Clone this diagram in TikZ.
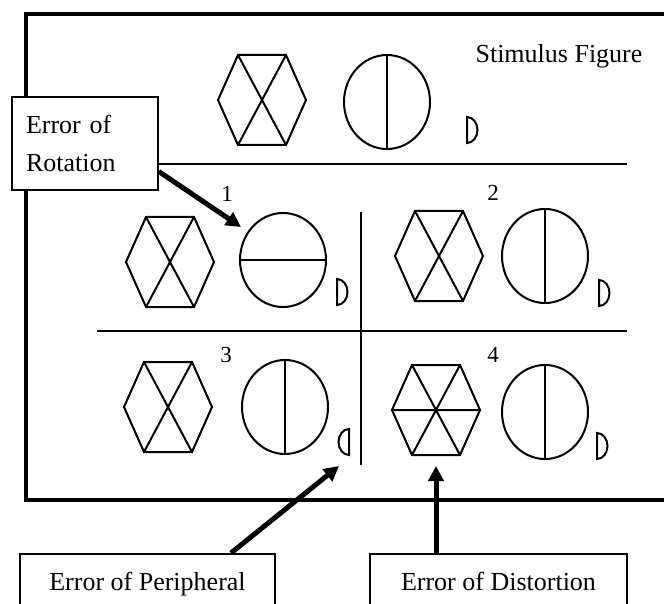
\documentclass[tikz,border=0pt]{standalone}
\usepackage{fontspec}
\setmainfont{Liberation Serif}
\usetikzlibrary{arrows.meta}

\begin{document}
\begin{tikzpicture}[x=1pt,y=-1pt,
  figline/.style={line width=2pt},
  divider/.style={line width=1.8pt},
  box/.style={draw,fill=white,line width=1.6pt,font=\fontsize{26}{38}\selectfont},
  panelnum/.style={anchor=base,font=\fontsize{23}{24}\selectfont},
  errarrow/.style={line width=5pt,-{Triangle[length=15pt,width=15pt]}},
  hexcross/.pic={
    \draw[figline] (-44,0)--(-24,-45)--(24,-45)--(44,0)--(24,45)--(-24,45)--cycle;
    \draw[figline] (-24,-45)--(24,45) (24,-45)--(-24,45);},
  hexstar/.pic={
    \draw[figline] (-44,0)--(-24,-45)--(24,-45)--(44,0)--(24,45)--(-24,45)--cycle;
    \draw[figline] (-24,-45)--(24,45) (24,-45)--(-24,45) (-44,0)--(44,0);},
  ovalv/.pic={
    \draw[figline] (0,0) ellipse [x radius=43,y radius=47];
    \draw[figline] (0,-47)--(0,47);},
  ovalh/.pic={
    \draw[figline] (0,0) ellipse [x radius=43,y radius=47];
    \draw[figline] (-43,0)--(43,0);},
  dmark/.pic={
    \draw[figline] (0,-13)--(0,13) arc[start angle=90,end angle=-90,x radius=10.5,y radius=13]--cycle;}]
  \clip (0,0) rectangle (664,604);
  \draw[line width=3.4pt] (26,14) rectangle (700,500);
  % dividers of the four answers
  \draw[divider] (150,164)--(627,164);
  \draw[divider] (97,331)--(627,331);
  \draw[divider] (361,212)--(361,465);
  % stimulus
  \pic at (262,100) {hexcross};
  \pic at (387,102) {ovalv};
  \pic at (467,130) {dmark};
  \node[anchor=base,font=\fontsize{26}{30}\selectfont] (stim) at (559,63) {Stimulus Figure};
  % answer 1
  \node[panelnum] (n1) at (227,202) {1};
  \pic at (170,262) {hexcross};
  \pic at (283,260) {ovalh};
  \pic at (337,292) {dmark};
  % answer 2
  \node[panelnum] (n2) at (493,201) {2};
  \pic at (439,256) {hexcross};
  \pic at (545,256) {ovalv};
  \pic at (599,293) {dmark};
  % answer 3
  \node[panelnum] (n3) at (226,362) {3};
  \pic at (168,407) {hexcross};
  \pic at (285,407) {ovalv};
  \pic[xscale=-1] at (349,442) {dmark};
  % answer 4
  \node[panelnum] (n4) at (493,362) {4};
  \pic at (436,410) {hexstar};
  \pic at (545,412) {ovalv};
  \pic at (597,446) {dmark};
  % error labels
  \node[box,minimum width=146pt,minimum height=93pt,inner xsep=14pt,text width=118pt,align=left] (rot) at (85,143.5) {Error of\\Rotation};
  \node[box,anchor=north,minimum width=255pt,inner ysep=0pt,text height=37pt,text depth=30pt] (peri) at (147.5,553) {Error of Peripheral};
  \node[box,anchor=north,minimum width=257pt,inner ysep=0pt,text height=37pt,text depth=30pt] (dist) at (498.5,553) {Error of Distortion};
  \coordinate (rottip) at (241,227);
  \coordinate (peritip) at (339,466);
  \coordinate (disttip) at (436,466);
  \draw[errarrow] ([yshift=-28pt]rot.east)--(rottip);
  \draw[errarrow] ([xshift=83.5pt]peri.north)--(peritip);
  \draw[errarrow] ([xshift=-62.5pt]dist.north)--(disttip);
\end{tikzpicture}
\end{document}
